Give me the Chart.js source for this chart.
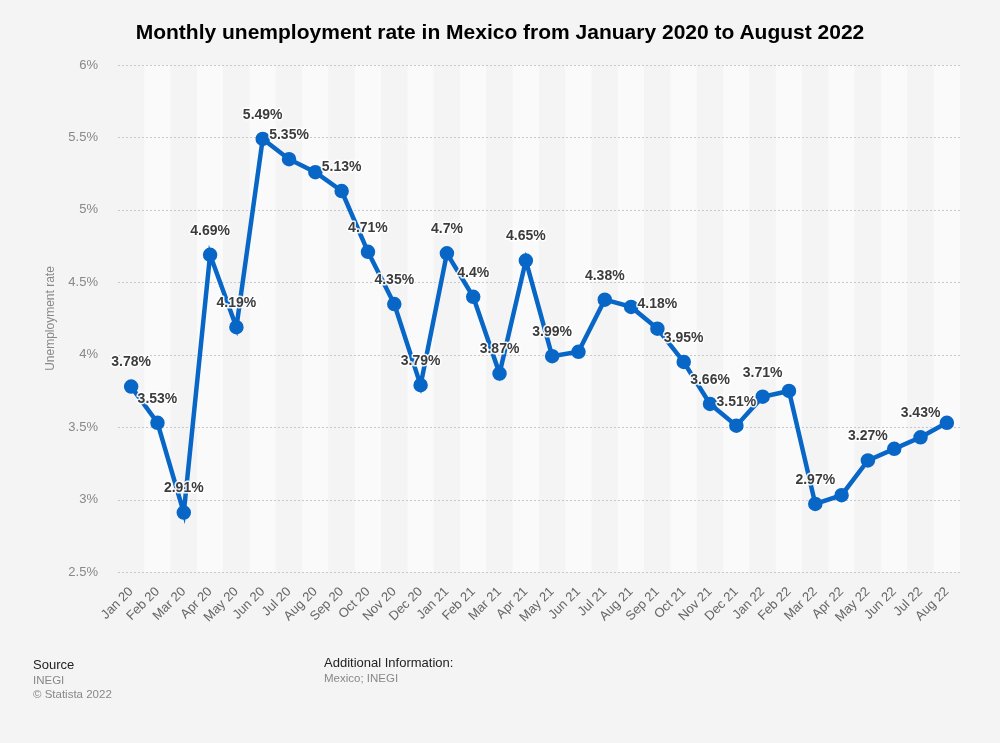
<!DOCTYPE html>
<html>
<head>
<meta charset="utf-8">
<script src="https://cdn.jsdelivr.net/npm/chart.js@4"></script>
<style>
  html, body { margin: 0; padding: 0; background: #f4f4f4; }
  body { width: 1000px; height: 743px; position: relative; overflow: hidden; font-family: "Liberation Sans", Arial, sans-serif; }
  #wrap { position: absolute; left: 0; top: 0; width: 1000px; height: 743px; }
  .title { position: absolute; left: 0; width: 1000px; top: 20px; text-align: center; font-size: 21px; font-weight: bold; color: #000; }
  .foot { position: absolute; font-size: 13px; color: #222; }
  .foot span { display: block; font-size: 11.5px; color: #888; margin-top: 2px; }
</style>
</head>
<body>
<div id="wrap"><canvas id="myChart" width="1000" height="743"></canvas></div>
<div class="title">Monthly unemployment rate in Mexico from January 2020 to August 2022</div>
<div class="foot" style="left:33px; top:657px;">Source<span>INEGI</span><span>© Statista 2022</span></div>
<div class="foot" style="left:324px; top:655px;">Additional Information:<span>Mexico; INEGI</span></div>
<script>
const months = ['Jan 20','Feb 20','Mar 20','Apr 20','May 20','Jun 20','Jul 20','Aug 20','Sep 20','Oct 20','Nov 20','Dec 20',
  'Jan 21','Feb 21','Mar 21','Apr 21','May 21','Jun 21','Jul 21','Aug 21','Sep 21','Oct 21','Nov 21','Dec 21',
  'Jan 22','Feb 22','Mar 22','Apr 22','May 22','Jun 22','Jul 22','Aug 22'];
const rates = [3.78, 3.53, 2.91, 4.69, 4.19, 5.49, 5.35, 5.26, 5.13, 4.71, 4.35, 3.79,
  4.7, 4.4, 3.87, 4.65, 3.99, 4.02, 4.38, 4.33, 4.18, 3.95, 3.66, 3.51,
  3.71, 3.75, 2.97, 3.03, 3.27, 3.35, 3.43, 3.53];
// which points carry a value label in the original
const shownLabels = ['3.78%','3.53%','2.91%','4.69%','4.19%','5.49%','5.35%',null,'5.13%','4.71%','4.35%','3.79%',
  '4.7%','4.4%','3.87%','4.65%','3.99%',null,'4.38%',null,'4.18%','3.95%','3.66%','3.51%',
  '3.71%',null,'2.97%',null,'3.27%',null,'3.43%',null];
const yTicks = [2.5, 3, 3.5, 4, 4.5, 5, 5.5, 6];

// alternating column bands behind the line
const bands = {
  id: 'bands',
  beforeDatasetsDraw(chart) {
    const { ctx, chartArea, scales } = chart;
    const x = scales.x;
    const w = (chartArea.right - chartArea.left) / months.length;
    ctx.save();
    months.forEach((m, i) => {
      ctx.fillStyle = i % 2 ? '#fafafa' : '#f4f4f4';
      ctx.fillRect(x.getPixelForValue(i) - w / 2, chartArea.top, w, chartArea.bottom - chartArea.top);
    });
    ctx.restore();
  }
};

// dotted grid drawn over the bands
const gridAgain = {
  id: 'gridAgain',
  beforeDatasetsDraw(chart) {
    const { ctx, chartArea, scales } = chart;
    ctx.save();
    ctx.strokeStyle = '#c8c8c8';
    ctx.lineWidth = 1;
    ctx.setLineDash([2, 2]);
    yTicks.forEach(v => {
      const y = Math.round(scales.y.getPixelForValue(v)) + 0.5;
      ctx.beginPath();
      ctx.moveTo(chartArea.left, y);
      ctx.lineTo(chartArea.right, y);
      ctx.stroke();
    });
    ctx.restore();
  }
};

const valueLabels = {
  id: 'valueLabels',
  afterDatasetsDraw(chart) {
    const { ctx } = chart;
    const meta = chart.getDatasetMeta(0);
    ctx.save();
    ctx.font = 'bold 14px "Liberation Sans", Arial, sans-serif';
    ctx.textAlign = 'center';
    ctx.textBaseline = 'middle';
    ctx.lineJoin = 'round';
    meta.data.forEach((pt, i) => {
      const txt = shownLabels[i];
      if (!txt) return;
      ctx.strokeStyle = 'rgba(255,255,255,0.9)';
      ctx.lineWidth = 3;
      ctx.strokeText(txt, pt.x, pt.y - 24);
      ctx.fillStyle = '#3c3c3c';
      ctx.fillText(txt, pt.x, pt.y - 24);
    });
    ctx.restore();
  }
};

const ctx = document.getElementById('myChart').getContext('2d');
new Chart(ctx, {
  type: 'line',
  data: {
    labels: months,
    datasets: [{
      data: rates,
      borderColor: '#0866c6',
      backgroundColor: '#0866c6',
      borderWidth: 4.5,
      pointRadius: 5,
      pointHoverRadius: 5,
      tension: 0
    }]
  },
  options: {
    responsive: false,
    animation: false,
    layout: { padding: { top: 65, right: 40, left: 0, bottom: 0 } },
    plugins: {
      legend: { display: false },
      tooltip: { enabled: false }
    },
    scales: {
      x: {
        offset: true,
        grid: { display: false },
        border: { display: false },
        ticks: {
          color: '#666',
          font: { size: 13, family: '"Liberation Sans", Arial, sans-serif' },
          maxRotation: 45,
          minRotation: 45,
          autoSkip: false,
          padding: 4
        },
        afterFit: (s) => { s.height = 171; }
      },
      y: {
        min: 2.5,
        max: 6,
        afterBuildTicks: (s) => { s.ticks = yTicks.map(v => ({ value: v })); },
        grid: { display: false },
        border: { display: false },
        ticks: {
          color: '#888',
          font: { size: 13, family: '"Liberation Sans", Arial, sans-serif' },
          padding: 12,
          callback: (v) => v + '%'
        },
        title: {
          display: true,
          text: 'Unemployment rate',
          color: '#888',
          font: { size: 12, family: '"Liberation Sans", Arial, sans-serif' },
          padding: { top: 43, bottom: 0 }
        },
        afterFit: (s) => { s.width = 118; }
      }
    }
  },
  plugins: [bands, gridAgain, valueLabels]
});
</script>
</body>
</html>
